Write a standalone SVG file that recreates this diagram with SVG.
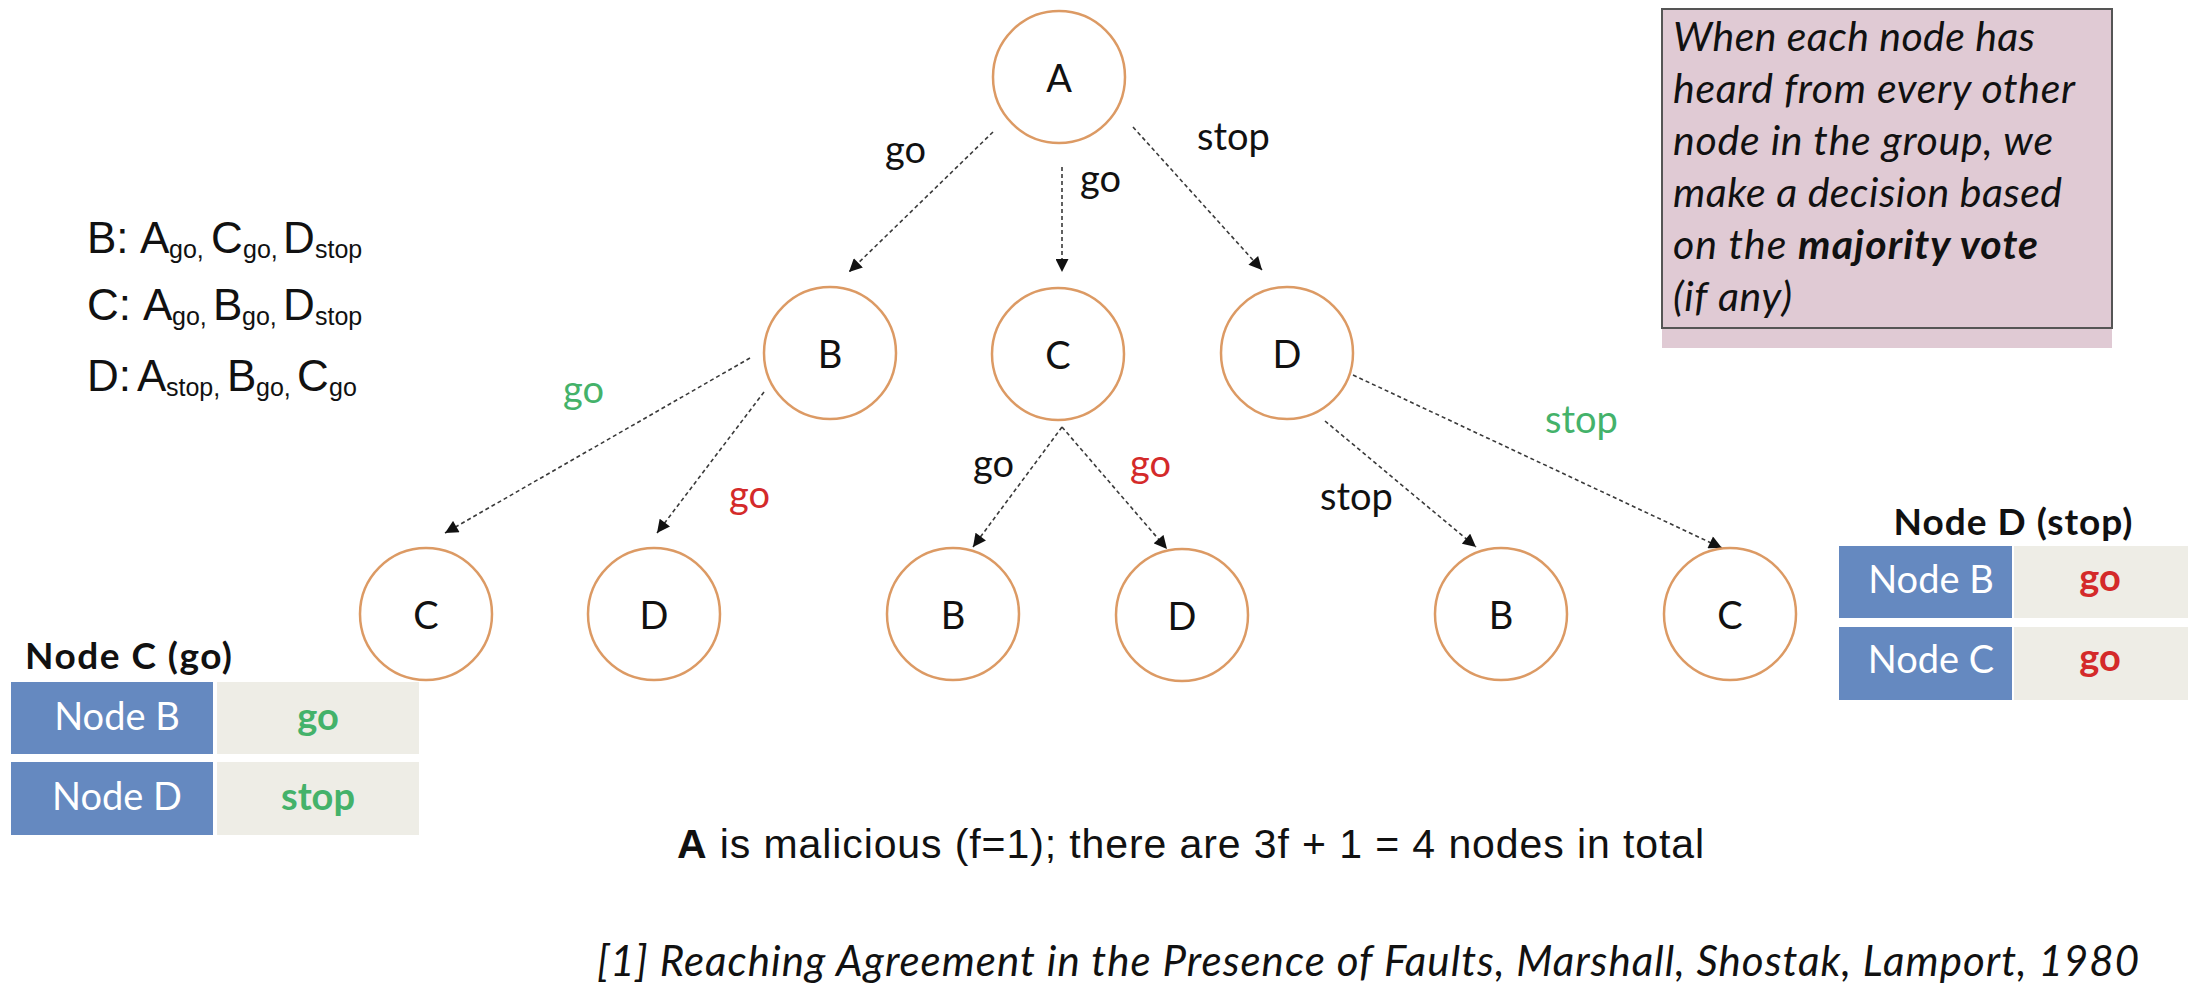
<svg xmlns="http://www.w3.org/2000/svg" width="2192" height="996" viewBox="0 0 2192 996">
<style>
.node circle{fill:#fff;stroke:#dc9a64;stroke-width:2.5}
.node text{font-family:Lato,"Open Sans",sans-serif;font-size:38px;fill:#111;text-anchor:middle}
.edge{stroke:#3a3a3a;stroke-width:1.6;stroke-dasharray:4 3;fill:none;marker-end:url(#arr)}
.lbl{font-family:Lato,"Open Sans",sans-serif;font-size:38px}
.blk{fill:#111}.grn{fill:#44b26a}.red{fill:#d42a2a}
.lst{font-family:"Liberation Sans",Arial,sans-serif;font-size:44px;fill:#111}
.sub{font-size:25px}
.box{font-family:Lato,"Open Sans",sans-serif;font-size:41px;font-style:italic;fill:#111}
.ttl{font-family:Lato,"Open Sans",sans-serif;font-size:37px;font-weight:bold;fill:#111}
.cellb{fill:#6589c0}.cellg{fill:#eeede6}
.ct{font-family:Lato,"Open Sans",sans-serif;font-size:38px;fill:#fff;text-anchor:middle}
.cv{font-family:Lato,"Open Sans",sans-serif;font-size:38px;font-weight:bold;text-anchor:middle}
</style>
<defs>
<marker id="arr" viewBox="0 0 10 10" refX="10" refY="5" markerWidth="14" markerHeight="13" markerUnits="userSpaceOnUse" orient="auto">
<path d="M0,0 L10,5 L0,10 z" fill="#111"/>
</marker>
</defs>
<rect width="2192" height="996" fill="#fff"/>

<g id="connectors">
<line class="edge" x1="993" y1="132" x2="849" y2="272"/>
<line class="edge" x1="1062" y1="167" x2="1062" y2="272"/>
<line class="edge" x1="1133" y1="127" x2="1262" y2="270"/>
<line class="edge" x1="750" y1="358" x2="445" y2="533"/>
<line class="edge" x1="764" y1="392" x2="657" y2="533"/>
<line class="edge" x1="1062" y1="427" x2="973" y2="547"/>
<line class="edge" x1="1062" y1="427" x2="1167" y2="549"/>
<line class="edge" x1="1325" y1="421" x2="1476" y2="547"/>
<line class="edge" x1="1353" y1="375" x2="1722" y2="548"/>
<text class="lbl blk" x="885" y="163">go</text>
<text class="lbl blk" x="1080" y="192">go</text>
<text class="lbl blk" x="1197" y="150">stop</text>
<text class="lbl grn" x="563" y="403">go</text>
<text class="lbl red" x="729" y="508">go</text>
<text class="lbl blk" x="973" y="477">go</text>
<text class="lbl red" x="1130" y="477">go</text>
<text class="lbl blk" x="1320" y="510">stop</text>
<text class="lbl grn" x="1545" y="433">stop</text>
</g>

<g id="node-A" class="node"><circle cx="1059" cy="77" r="66"/><text x="1059" y="92">A</text></g>
<g id="node-B1" class="node"><circle cx="830" cy="353" r="66"/><text x="830" y="368">B</text></g>
<g id="node-C1" class="node"><circle cx="1058" cy="354" r="66"/><text x="1058" y="369">C</text></g>
<g id="node-D1" class="node"><circle cx="1287" cy="353" r="66"/><text x="1287" y="368">D</text></g>
<g id="node-C2" class="node"><circle cx="426" cy="614" r="66"/><text x="426" y="629">C</text></g>
<g id="node-D2" class="node"><circle cx="654" cy="614" r="66"/><text x="654" y="629">D</text></g>
<g id="node-B3" class="node"><circle cx="953" cy="614" r="66"/><text x="953" y="629">B</text></g>
<g id="node-D3" class="node"><circle cx="1182" cy="615" r="66"/><text x="1182" y="630">D</text></g>
<g id="node-B4" class="node"><circle cx="1501" cy="614" r="66"/><text x="1501" y="629">B</text></g>
<g id="node-C4" class="node"><circle cx="1730" cy="614" r="66"/><text x="1730" y="629">C</text></g>

<g id="received-list" class="lst">
<text y="253"><tspan x="87">B:</tspan><tspan x="140">A</tspan><tspan class="sub" x="169" dy="5">go,</tspan><tspan x="211" dy="-5">C</tspan><tspan class="sub" x="243" dy="5">go,</tspan><tspan x="283" dy="-5">D</tspan><tspan class="sub" x="315" dy="5">stop</tspan></text>
<text y="320"><tspan x="87">C:</tspan><tspan x="143">A</tspan><tspan class="sub" x="172" dy="5">go,</tspan><tspan x="213" dy="-5">B</tspan><tspan class="sub" x="242" dy="5">go,</tspan><tspan x="283" dy="-5">D</tspan><tspan class="sub" x="315" dy="5">stop</tspan></text>
<text y="391"><tspan x="87">D:</tspan><tspan x="137">A</tspan><tspan class="sub" x="166" dy="5">stop,</tspan><tspan x="227" dy="-5">B</tspan><tspan class="sub" x="256" dy="5">go,</tspan><tspan x="297" dy="-5">C</tspan><tspan class="sub" x="329" dy="5">go</tspan></text>
</g>

<g id="note-box">
<rect x="1662" y="9" width="450" height="339" fill="#e0cad4"/>
<rect x="1662" y="9" width="450" height="319" fill="none" stroke="#555" stroke-width="2"/>
<text class="box" x="1673" y="51" textLength="362">When each node has</text>
<text class="box" x="1673" y="103" textLength="402">heard from every other</text>
<text class="box" x="1673" y="155" textLength="380">node in the group, we</text>
<text class="box" x="1673" y="207" textLength="389">make a decision based</text>
<text class="box" x="1673" y="259" textLength="365">on the <tspan font-weight="bold">majority vote</tspan></text>
<text class="box" x="1673" y="311" textLength="119">(if any)</text>
</g>

<g id="table-C">
<text class="ttl" x="25" y="669" textLength="207">Node C (go)</text>
<rect class="cellb" x="11" y="682" width="202" height="72"/>
<rect class="cellg" x="217" y="682" width="202" height="72"/>
<rect class="cellb" x="11" y="762" width="202" height="73"/>
<rect class="cellg" x="217" y="762" width="202" height="73"/>
<text class="ct" x="117" y="730">Node B</text>
<text class="ct" x="117" y="810">Node D</text>
<text class="cv grn" x="318" y="730">go</text>
<text class="cv grn" x="318" y="810">stop</text>
</g>

<g id="table-D">
<text class="ttl" x="2013" y="535" text-anchor="middle" textLength="239">Node D (stop)</text>
<rect class="cellb" x="1839" y="546" width="173" height="72"/>
<rect class="cellg" x="2014" y="546" width="174" height="72"/>
<rect class="cellb" x="1839" y="627" width="173" height="73"/>
<rect class="cellg" x="2014" y="627" width="174" height="73"/>
<text class="ct" x="1931" y="593">Node B</text>
<text class="ct" x="1931" y="673">Node C</text>
<text class="cv red" x="2100" y="591">go</text>
<text class="cv red" x="2100" y="671">go</text>
</g>

<text x="677" y="858" font-family="'Liberation Sans',Arial,sans-serif" font-size="41" fill="#111" textLength="1027"><tspan font-weight="bold">A</tspan> is malicious (f=1); there are 3f + 1 = 4 nodes in total</text>
<text x="597" y="976" font-family="Lato,'Open Sans',sans-serif" font-size="42" font-style="italic" fill="#111" textLength="1542">[1] Reaching Agreement in the Presence of Faults, Marshall, Shostak, Lamport, 1980</text>
</svg>
